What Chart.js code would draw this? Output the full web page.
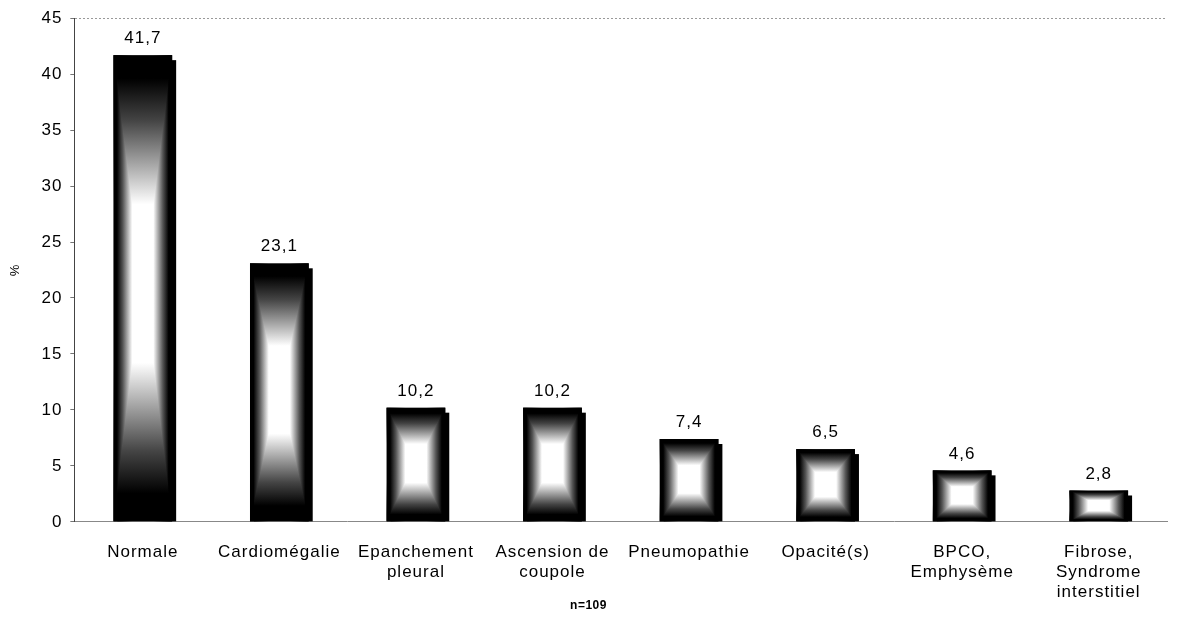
<!DOCTYPE html>
<html>
<head>
<meta charset="utf-8">
<script src="https://cdn.jsdelivr.net/npm/chart.js@4.4.1/dist/chart.umd.min.js"></script>
<style>
  html, body { margin: 0; padding: 0; background: #fff; }
  #wrap { width: 1177px; height: 644px; }
</style>
</head>
<body>
<div id="wrap"><canvas id="c" width="1177" height="644"></canvas></div>
<script>
const categories = [
  'Normale',
  'Cardiomégalie',
  ['Epanchement', 'pleural'],
  ['Ascension de', 'coupole'],
  'Pneumopathie',
  'Opacité(s)',
  ['BPCO,', 'Emphysème'],
  ['Fibrose,', 'Syndrome', 'interstitiel']
];
const values = [41.7, 23.1, 10.2, 10.2, 7.4, 6.5, 4.6, 2.8];
const valueLabels = ['41,7', '23,1', '10,2', '10,2', '7,4', '6,5', '4,6', '2,8'];
const yTicks = [0, 5, 10, 15, 20, 25, 30, 35, 40, 45];
const yTitle = '%';
const xTitle = 'n=109';

const FONT = "'Liberation Sans', Arial, sans-serif";

const spacing = {
  id: 'spacing',
  beforeDraw(chart) { chart.ctx.letterSpacing = '1px'; }
};

const barStyle = {
  id: 'barStyle',
  beforeDatasetsDraw(chart) {
    const ctx = chart.ctx;
    const meta = chart.getDatasetMeta(0);
    ctx.save();
    meta.data.forEach(bar => {
      const p = bar.getProps(['x', 'y', 'base', 'width'], true);
      const l = p.x - p.width / 2;
      ctx.fillStyle = '#000';
      ctx.fillRect(l + 4, p.y + 5, p.width, p.base - p.y - 5);
    });
    ctx.restore();
  },
  afterDatasetsDraw(chart) {
    const ctx = chart.ctx;
    const meta = chart.getDatasetMeta(0);
    ctx.save();
    meta.data.forEach((bar, i) => {
      const p = bar.getProps(['x', 'y', 'base', 'width'], true);
      const l = p.x - p.width / 2, r = p.x + p.width / 2;
      const t = p.y, b = p.base, h = b - t;
      const hg = ctx.createLinearGradient(l, 0, r, 0);
      hg.addColorStop(0, '#000');
      hg.addColorStop(0.06, '#000');
      hg.addColorStop(0.16, '#555');
      hg.addColorStop(0.32, '#fff');
      hg.addColorStop(0.68, '#fff');
      hg.addColorStop(0.84, '#555');
      hg.addColorStop(0.94, '#000');
      hg.addColorStop(1, '#000');
      ctx.globalCompositeOperation = 'source-over';
      ctx.fillStyle = hg;
      ctx.fillRect(l, t, p.width, h);
      const vg = ctx.createLinearGradient(0, t, 0, b);
      vg.addColorStop(0, '#000');
      vg.addColorStop(0.05, '#000');
      vg.addColorStop(0.14, '#444');
      vg.addColorStop(0.32, '#fff');
      vg.addColorStop(0.66, '#fff');
      vg.addColorStop(0.85, '#444');
      vg.addColorStop(0.94, '#000');
      vg.addColorStop(1, '#000');
      ctx.globalCompositeOperation = 'darken';
      ctx.fillStyle = vg;
      ctx.fillRect(l, t, p.width, h);
      ctx.globalCompositeOperation = 'source-over';
      ctx.fillStyle = '#000';
      ctx.font = '17px ' + FONT;
      ctx.textAlign = 'center';
      ctx.textBaseline = 'bottom';
      ctx.fillText(valueLabels[i], p.x, t - 8);
    });
    ctx.restore();
  },
  afterDraw(chart) {
    const ctx = chart.ctx;
    ctx.save();
    ctx.fillStyle = '#000';
    ctx.font = 'bold 12px ' + FONT;
    ctx.letterSpacing = '0.5px';
    ctx.textAlign = 'center';
    ctx.textBaseline = 'middle';
    ctx.fillText(xTitle, chart.width / 2, chart.chartArea.bottom + 84);
    ctx.restore();
  }
};

new Chart(document.getElementById('c'), {
  type: 'bar',
  data: {
    labels: categories,
    datasets: [{
      data: values,
      backgroundColor: 'rgba(0,0,0,0)',
      borderWidth: 0,
      categoryPercentage: 1,
      barPercentage: 0.43
    }]
  },
  options: {
    responsive: false,
    animation: false,
    devicePixelRatio: 1,
    layout: { padding: { top: 8, right: 10, left: 4, bottom: 22 } },
    plugins: {
      legend: { display: false },
      tooltip: { enabled: false },
      title: { display: false }
    },
    scales: {
      x: {
        grid: { display: false, drawTicks: false },
        border: { display: true, color: '#888', width: 1 },
        ticks: {
          color: '#000',
          font: { family: FONT, size: 17, lineHeight: 1.18 },
          padding: 20,
          maxRotation: 0,
          autoSkip: false
        }
      },
      y: {
        min: 0,
        max: 45,
        afterBuildTicks(scale) { scale.ticks = yTicks.map(v => ({ value: v })); },
        grid: {
          color: ctx => (ctx.tick && ctx.tick.value === 45) ? '#999' : 'rgba(0,0,0,0)',
          tickColor: '#444',
          tickLength: 4,
          tickBorderDash: [1, 0],
          drawTicks: true
        },
        border: { display: true, color: '#444', width: 1, dash: [2, 2] },
        title: {
          display: true,
          text: yTitle,
          color: '#000',
          font: { family: FONT, size: 13 },
          padding: { bottom: 12 }
        },
        ticks: {
          color: '#000',
          font: { family: FONT, size: 17 },
          padding: 8
        }
      }
    }
  },
  plugins: [spacing, barStyle]
});
</script>
</body>
</html>
